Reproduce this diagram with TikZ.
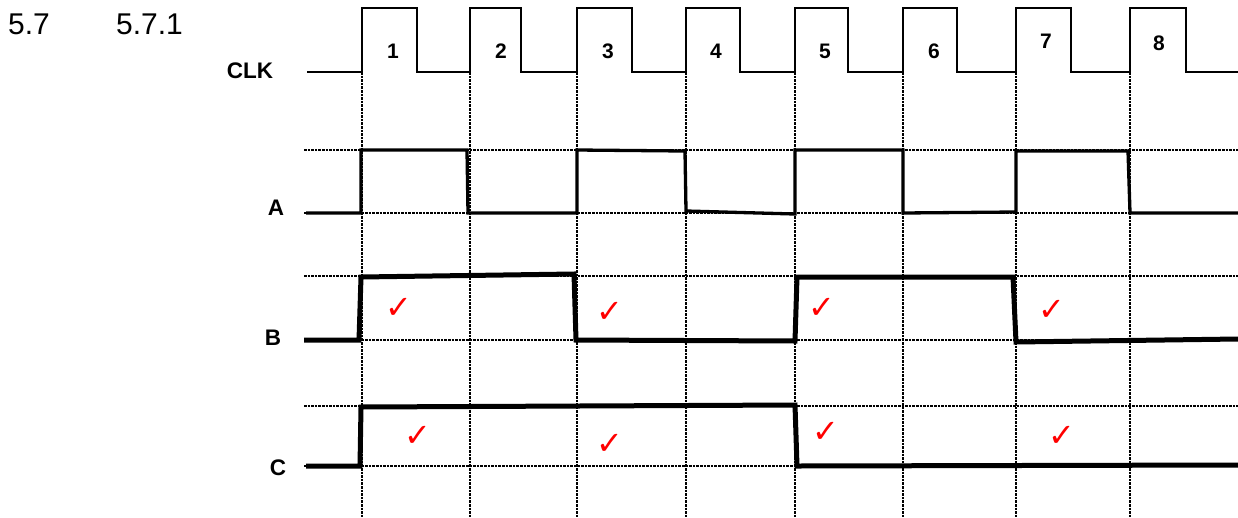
\documentclass[tikz,border=0pt]{standalone}
\usepackage{fontspec}
\setmainfont{Liberation Sans}
\newfontfamily\tickfont{DejaVu Sans}
\usepackage{tikz}

\begin{document}
\begin{tikzpicture}[x=1pt, y=-1pt, every node/.style={font=\fontsize{22.5}{26}\selectfont\bfseries}]
  \tikzstyle{grid} = [line width=1.7pt, dash pattern=on 2.6pt off 1pt]
  \tikzstyle{clock} = [line width=1.9pt]
  \tikzstyle{wave} = [line width=3.3pt]
  \tikzstyle{bold wave} = [line width=5pt]
  \tikzstyle{num} = [font=\fontsize{21}{24}\selectfont\bfseries]
  \tikzstyle{tick} = [text=red, font=\tickfont\fontsize{32}{34}\selectfont]
  \useasboundingbox (0,0) rectangle (1238,517);
  % headings
  \node (sec) [anchor=west, inner sep=0pt, font=\fontsize{30}{34}\selectfont] at (8,24) {5.7};
  \node (subsec) [anchor=west, inner sep=0pt, font=\fontsize{30}{34}\selectfont] at (116,24) {5.7.1};
  % grid
  \foreach \x in {362,470,577,686,795,903,1016,1130}
    \draw [grid] (\x,72) -- (\x,517);
  \foreach \y in {150,213,276,340,406,466}
    \draw [grid] (304,\y) -- (1238,\y);
  % signal names
  \node (clk) at (250,71) {CLK};
  \node (siga) at (276,208) {A};
  \node (sigb) at (273,338) {B};
  \node (sigc) at (278,468) {C};
  % clock pulses and numbers
  \draw [clock] (307,72) -- (362,72) |- (417,8) |- (470,72) |- (521,8) |- (577,72) |- (632,8) |- (686,72)
    |- (740,8) |- (795,72) |- (848,8) |- (903,72) |- (957,8) |- (1016,72) |- (1071,8) |- (1130,72)
    |- (1186,8) |- (1238,72);
  \node (n1) [num] at (393,51) {1};
  \node (n2) [num] at (501,51) {2};
  \node (n3) [num] at (608,51) {3};
  \node (n4) [num] at (716,51) {4};
  \node (n5) [num] at (825,51) {5};
  \node (n6) [num] at (934,51) {6};
  \node (n7) [num] at (1046,41) {7};
  \node (n8) [num] at (1159,43) {8};
  % waveforms
  \draw [wave] (306,213) -- (361,213) -- (361,150) -- (467,150) -- (468,213) -- (577,213) -- (577,150)
    -- (685,151) -- (686,211) -- (795,214) -- (795,150) -- (903,150) -- (903,213) -- (1016,212)
    -- (1016,151) -- (1128,151) -- (1130,213) -- (1238,213);
  \draw [bold wave] (304,340) -- (359,340) -- (361,277) -- (574,274) -- (576,340) -- (795,341)
    -- (797,277) -- (1013,277) -- (1016,342) -- (1238,339);
  \draw [bold wave] (306,466) -- (360,466) -- (361,407) -- (795,405) -- (797,466) -- (1238,465);
  % marks
  \node (tb1) [tick] at (399,308) {✓};
  \node (tb2) [tick] at (610,312) {✓};
  \node (tb3) [tick] at (822,308) {✓};
  \node (tb4) [tick] at (1052,310) {✓};
  \node (tc1) [tick] at (418,436) {✓};
  \node (tc2) [tick] at (610,444) {✓};
  \node (tc3) [tick] at (826,432) {✓};
  \node (tc4) [tick] at (1062,436) {✓};
\end{tikzpicture}
\end{document}
